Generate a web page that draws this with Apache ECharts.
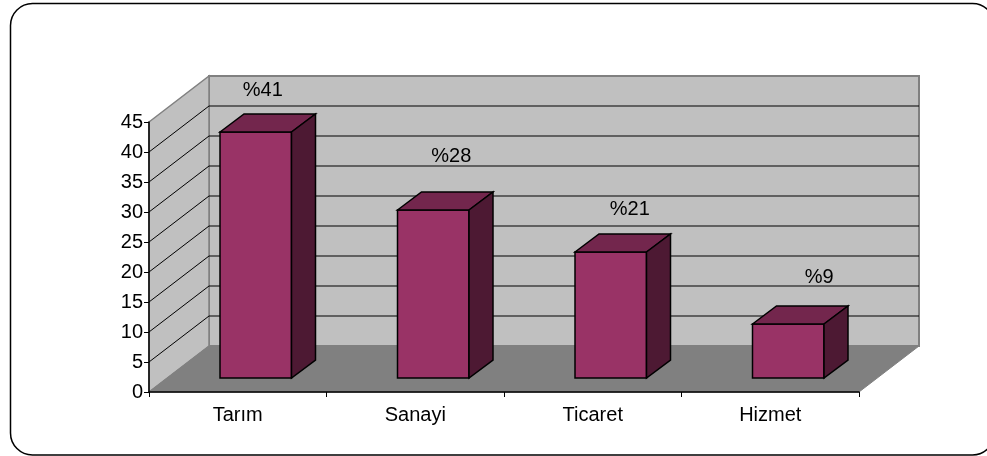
<!DOCTYPE html>
<html><head><meta charset="utf-8">
<style>html,body{margin:0;padding:0;background:#fff}#c{width:987px;height:456px}</style>
<script src="https://cdn.jsdelivr.net/npm/echarts@6/dist/echarts.min.js"></script>
</head><body><div id="c"></div>
<script>
const categories = ['Tarım','Sanayi','Ticaret','Hizmet'];
const values = [41,28,21,9];
const valueLabels = ['%41','%28','%21','%9'];
const yTicks = [5,10,15,20,25,30,35,40,45];

// projection and style settings
const WALL_DX = 60, WALL_DY = 46;
const BAR_OFF_X = 18, BAR_OFF_Y = 14, BAR_DX = 24, BAR_DY = 18, BAR_W = 71.5;
const LABEL_SHIFT = [[7,-42],[18,-54],[19,-43],[31,-47]];
const FONT = '"Liberation Sans", Arial, sans-serif';
const FS = 20;

const chart = echarts.init(document.getElementById('c'), null, {renderer:'canvas'});
const poly = (points, fill, stroke, lw, z2) => ({type:'polygon', z2:z2||0, shape:{points},
  style:{fill, stroke, lineWidth:lw}});

chart.setOption({
  animation:false,
  backgroundColor:'#fff',
  graphic:[{type:'rect', silent:true, z:-10,
    shape:{x:10.5,y:3.5,width:984,height:451.5,r:22},
    style:{fill:'#fff',stroke:'#000',lineWidth:1.5}}],
  grid:{left:149,right:128,top:122,bottom:64,containLabel:false},
  xAxis:{type:'category',data:categories,
    axisLine:{show:true,lineStyle:{color:'#000',width:1.5}},
    axisTick:{show:true,alignWithLabel:false,length:5,lineStyle:{color:'#000',width:1}},
    axisLabel:{color:'#000',fontFamily:FONT,fontSize:FS,margin:13},
    splitLine:{show:false},z:5},
  yAxis:{type:'value',min:0,max:45,interval:5,
    axisLine:{show:true,lineStyle:{color:'#000',width:1.5}},
    axisTick:{show:true,length:5,lineStyle:{color:'#000',width:1}},
    axisLabel:{color:'#000',fontFamily:FONT,fontSize:FS,margin:6},
    splitLine:{show:false},z:5},
  series:[
    { // walls and floor
      type:'custom',coordinateSystem:'cartesian2d',z:1,silent:true,
      data:[0],
      renderItem:(p,api)=>{
        const c=p.coordSys, l=c.x, r=c.x+c.width, t=c.y, b=c.y+c.height;
        const dx=WALL_DX, dy=WALL_DY;
        return {type:'group',children:[
          poly([[l+dx,t-dy],[r+dx,t-dy],[r+dx,b-dy],[l+dx,b-dy]],'#c0c0c0','#808080',2),
          poly([[l,t],[l+dx,t-dy],[l+dx,b-dy],[l,b]],'#c0c0c0','#808080',1.5),
          poly([[l,b],[r,b],[r+dx,b-dy],[l+dx,b-dy]],'#808080','#808080',1)
        ]};
      }
    },
    { // gridlines on both walls
      type:'custom',coordinateSystem:'cartesian2d',z:2,silent:true,
      data:yTicks.slice(0,-1).map(v=>[0,v]),
      encode:{y:1},
      renderItem:(p,api)=>{
        const c=p.coordSys, y=api.coord([0,api.value(1)])[1];
        const st={stroke:'#000',lineWidth:1,fill:'none'};
        return {type:'polyline',shape:{points:[[c.x,y],[c.x+WALL_DX,y-WALL_DY],[c.x+c.width+WALL_DX,y-WALL_DY]]},style:st};
      }
    },
    { // bars
      type:'custom',coordinateSystem:'cartesian2d',z:3,silent:true,
      data:values.map((v,i)=>[i,v]),
      encode:{x:0,y:1},
      renderItem:(p,api)=>{
        const i=api.value(0), top=api.coord([i,api.value(1)]), base=api.coord([i,0]);
        const l=top[0]+BAR_OFF_X-BAR_W/2, r=l+BAR_W, t=top[1]-BAR_OFF_Y, b=base[1]-BAR_OFF_Y;
        const sh=LABEL_SHIFT[i];
        return {type:'group',children:[
          poly([[l,t],[r,t],[r,b],[l,b]],'#993366','#000',1.5,1),
          poly([[l,t],[l+BAR_DX,t-BAR_DY],[r+BAR_DX,t-BAR_DY],[r,t]],'#73264d','#000',1.5,1),
          poly([[r,t],[r+BAR_DX,t-BAR_DY],[r+BAR_DX,b-BAR_DY],[r,b]],'#4d1933','#000',1.5,1),
          {type:'text',z2:5,style:{text:valueLabels[i],x:(l+r)/2+sh[0],y:t+sh[1],
            align:'center',verticalAlign:'middle',fill:'#000',font:FS+'px '+FONT}}
        ]};
      }
    }
  ]
});
</script></body></html>
